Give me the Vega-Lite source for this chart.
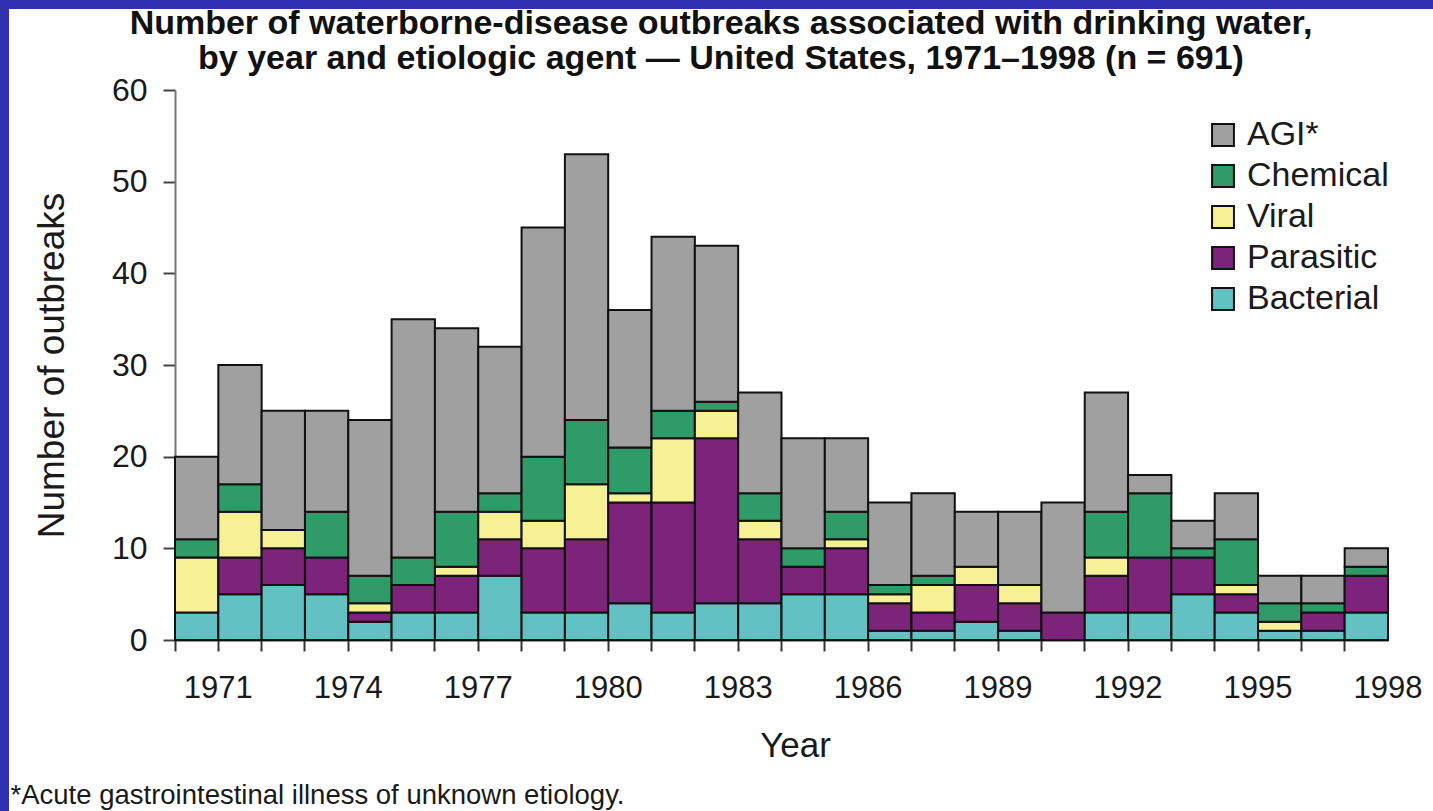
{
  "$schema": "https://vega.github.io/schema/vega-lite/v6.json",
  "width": 1424,
  "height": 802,
  "autosize": {"type": "none"},
  "padding": {"left": 9, "top": 9, "right": 0, "bottom": 0},
  "background": "#3131b2",
  "config": {
    "view": {"fill": "white", "stroke": null},
    "axis": {"grid": false}
  },
  "title": {
    "text": ["Number of waterborne-disease outbreaks associated with drinking water,", "by year and etiologic agent — United States, 1971–1998 (n = 691)"],
    "font": "Liberation Sans",
    "fontSize": 34,
    "fontWeight": "bold",
    "lineHeight": 35,
    "baseline": "top",
    "anchor": "middle",
    "frame": "group",
    "offset": -67,
    "color": "#111111"
  },
  "data": {
    "values": [
      {"year": 1971, "agent": "Bacterial", "n": 3}, {"year": 1971, "agent": "Viral", "n": 6}, {"year": 1971, "agent": "Chemical", "n": 2}, {"year": 1971, "agent": "AGI*", "n": 9},
      {"year": 1972, "agent": "Bacterial", "n": 5}, {"year": 1972, "agent": "Parasitic", "n": 4}, {"year": 1972, "agent": "Viral", "n": 5}, {"year": 1972, "agent": "Chemical", "n": 3}, {"year": 1972, "agent": "AGI*", "n": 13},
      {"year": 1973, "agent": "Bacterial", "n": 6}, {"year": 1973, "agent": "Parasitic", "n": 4}, {"year": 1973, "agent": "Viral", "n": 2}, {"year": 1973, "agent": "AGI*", "n": 13},
      {"year": 1974, "agent": "Bacterial", "n": 5}, {"year": 1974, "agent": "Parasitic", "n": 4}, {"year": 1974, "agent": "Chemical", "n": 5}, {"year": 1974, "agent": "AGI*", "n": 11},
      {"year": 1975, "agent": "Bacterial", "n": 2}, {"year": 1975, "agent": "Parasitic", "n": 1}, {"year": 1975, "agent": "Viral", "n": 1}, {"year": 1975, "agent": "Chemical", "n": 3}, {"year": 1975, "agent": "AGI*", "n": 17},
      {"year": 1976, "agent": "Bacterial", "n": 3}, {"year": 1976, "agent": "Parasitic", "n": 3}, {"year": 1976, "agent": "Chemical", "n": 3}, {"year": 1976, "agent": "AGI*", "n": 26},
      {"year": 1977, "agent": "Bacterial", "n": 3}, {"year": 1977, "agent": "Parasitic", "n": 4}, {"year": 1977, "agent": "Viral", "n": 1}, {"year": 1977, "agent": "Chemical", "n": 6}, {"year": 1977, "agent": "AGI*", "n": 20},
      {"year": 1978, "agent": "Bacterial", "n": 7}, {"year": 1978, "agent": "Parasitic", "n": 4}, {"year": 1978, "agent": "Viral", "n": 3}, {"year": 1978, "agent": "Chemical", "n": 2}, {"year": 1978, "agent": "AGI*", "n": 16},
      {"year": 1979, "agent": "Bacterial", "n": 3}, {"year": 1979, "agent": "Parasitic", "n": 7}, {"year": 1979, "agent": "Viral", "n": 3}, {"year": 1979, "agent": "Chemical", "n": 7}, {"year": 1979, "agent": "AGI*", "n": 25},
      {"year": 1980, "agent": "Bacterial", "n": 3}, {"year": 1980, "agent": "Parasitic", "n": 8}, {"year": 1980, "agent": "Viral", "n": 6}, {"year": 1980, "agent": "Chemical", "n": 7}, {"year": 1980, "agent": "AGI*", "n": 29},
      {"year": 1981, "agent": "Bacterial", "n": 4}, {"year": 1981, "agent": "Parasitic", "n": 11}, {"year": 1981, "agent": "Viral", "n": 1}, {"year": 1981, "agent": "Chemical", "n": 5}, {"year": 1981, "agent": "AGI*", "n": 15},
      {"year": 1982, "agent": "Bacterial", "n": 3}, {"year": 1982, "agent": "Parasitic", "n": 12}, {"year": 1982, "agent": "Viral", "n": 7}, {"year": 1982, "agent": "Chemical", "n": 3}, {"year": 1982, "agent": "AGI*", "n": 19},
      {"year": 1983, "agent": "Bacterial", "n": 4}, {"year": 1983, "agent": "Parasitic", "n": 18}, {"year": 1983, "agent": "Viral", "n": 3}, {"year": 1983, "agent": "Chemical", "n": 1}, {"year": 1983, "agent": "AGI*", "n": 17},
      {"year": 1984, "agent": "Bacterial", "n": 4}, {"year": 1984, "agent": "Parasitic", "n": 7}, {"year": 1984, "agent": "Viral", "n": 2}, {"year": 1984, "agent": "Chemical", "n": 3}, {"year": 1984, "agent": "AGI*", "n": 11},
      {"year": 1985, "agent": "Bacterial", "n": 5}, {"year": 1985, "agent": "Parasitic", "n": 3}, {"year": 1985, "agent": "Chemical", "n": 2}, {"year": 1985, "agent": "AGI*", "n": 12},
      {"year": 1986, "agent": "Bacterial", "n": 5}, {"year": 1986, "agent": "Parasitic", "n": 5}, {"year": 1986, "agent": "Viral", "n": 1}, {"year": 1986, "agent": "Chemical", "n": 3}, {"year": 1986, "agent": "AGI*", "n": 8},
      {"year": 1987, "agent": "Bacterial", "n": 1}, {"year": 1987, "agent": "Parasitic", "n": 3}, {"year": 1987, "agent": "Viral", "n": 1}, {"year": 1987, "agent": "Chemical", "n": 1}, {"year": 1987, "agent": "AGI*", "n": 9},
      {"year": 1988, "agent": "Bacterial", "n": 1}, {"year": 1988, "agent": "Parasitic", "n": 2}, {"year": 1988, "agent": "Viral", "n": 3}, {"year": 1988, "agent": "Chemical", "n": 1}, {"year": 1988, "agent": "AGI*", "n": 9},
      {"year": 1989, "agent": "Bacterial", "n": 2}, {"year": 1989, "agent": "Parasitic", "n": 4}, {"year": 1989, "agent": "Viral", "n": 2}, {"year": 1989, "agent": "AGI*", "n": 6},
      {"year": 1990, "agent": "Bacterial", "n": 1}, {"year": 1990, "agent": "Parasitic", "n": 3}, {"year": 1990, "agent": "Viral", "n": 2}, {"year": 1990, "agent": "AGI*", "n": 8},
      {"year": 1991, "agent": "Parasitic", "n": 3}, {"year": 1991, "agent": "AGI*", "n": 12},
      {"year": 1992, "agent": "Bacterial", "n": 3}, {"year": 1992, "agent": "Parasitic", "n": 4}, {"year": 1992, "agent": "Viral", "n": 2}, {"year": 1992, "agent": "Chemical", "n": 5}, {"year": 1992, "agent": "AGI*", "n": 13},
      {"year": 1993, "agent": "Bacterial", "n": 3}, {"year": 1993, "agent": "Parasitic", "n": 6}, {"year": 1993, "agent": "Chemical", "n": 7}, {"year": 1993, "agent": "AGI*", "n": 2},
      {"year": 1994, "agent": "Bacterial", "n": 5}, {"year": 1994, "agent": "Parasitic", "n": 4}, {"year": 1994, "agent": "Chemical", "n": 1}, {"year": 1994, "agent": "AGI*", "n": 3},
      {"year": 1995, "agent": "Bacterial", "n": 3}, {"year": 1995, "agent": "Parasitic", "n": 2}, {"year": 1995, "agent": "Viral", "n": 1}, {"year": 1995, "agent": "Chemical", "n": 5}, {"year": 1995, "agent": "AGI*", "n": 5},
      {"year": 1996, "agent": "Bacterial", "n": 1}, {"year": 1996, "agent": "Viral", "n": 1}, {"year": 1996, "agent": "Chemical", "n": 2}, {"year": 1996, "agent": "AGI*", "n": 3},
      {"year": 1997, "agent": "Bacterial", "n": 1}, {"year": 1997, "agent": "Parasitic", "n": 2}, {"year": 1997, "agent": "Chemical", "n": 1}, {"year": 1997, "agent": "AGI*", "n": 3},
      {"year": 1998, "agent": "Bacterial", "n": 3}, {"year": 1998, "agent": "Parasitic", "n": 4}, {"year": 1998, "agent": "Chemical", "n": 1}, {"year": 1998, "agent": "AGI*", "n": 2}
    ]
  },
  "transform": [
    {"calculate": "indexof(['Bacterial','Parasitic','Viral','Chemical','AGI*'], datum.agent)", "as": "stackOrder"}
  ],
  "resolve": {"axis": {"x": "independent"}},
  "layer": [
    {
      "mark": {"type": "bar", "stroke": "#111111", "strokeWidth": 2},
      "encoding": {
        "x": {
          "field": "year", "type": "ordinal",
          "scale": {"range": [166, 1379], "paddingInner": 0, "paddingOuter": 0},
          "axis": {
            "orient": "bottom", "offset": -171, "bandPosition": 0, "labelOffset": 21.65,
            "labelAngle": 0,
            "labelExpr": "(datum.value - 1971) % 3 == 0 ? datum.value : ''",
            "labelFont": "Liberation Sans", "labelFontSize": 31, "labelColor": "#1a1a1a", "labelPadding": 22,
            "tickSize": 11, "tickWidth": 2, "tickColor": "#333333",
            "domainColor": "#333333", "domainWidth": 2,
            "title": "Year", "titleFont": "Liberation Sans", "titleFontSize": 35, "titleFontWeight": "normal",
            "titleColor": "#1a1a1a", "titlePadding": 25, "titleX": 786
          }
        },
        "y": {
          "field": "n", "type": "quantitative", "stack": "zero",
          "scale": {"domain": [0, 60], "range": [631, 81], "nice": false},
          "axis": {
            "offset": -166, "values": [0, 10, 20, 30, 40, 50, 60],
            "labelFont": "Liberation Sans", "labelFontSize": 32, "labelColor": "#1a1a1a", "labelPadding": 16,
            "tickSize": 12, "tickWidth": 2, "tickColor": "#444444",
            "domainColor": "#777777", "domainWidth": 2,
            "title": "Number of outbreaks", "titleFont": "Liberation Sans", "titleFontSize": 37, "titleFontWeight": "normal",
            "titleColor": "#1a1a1a", "titlePadding": 40
          }
        },
        "color": {
          "field": "agent", "type": "nominal",
          "scale": {
            "domain": ["AGI*", "Chemical", "Viral", "Parasitic", "Bacterial"],
            "range": ["#a0a0a0", "#2f9b68", "#f6f195", "#7b2479", "#62c1c3"]
          },
          "legend": {
            "orient": "none", "legendX": 1197, "legendY": 109, "title": null, "padding": 0,
            "symbolType": "square", "symbolSize": 480, "symbolStrokeColor": "#111111", "symbolStrokeWidth": 2,
            "symbolOpacity": 1,
            "labelFont": "Liberation Sans", "labelFontSize": 34, "labelColor": "#1a1a1a", "labelOffset": 7,
            "rowPadding": 7
          }
        },
        "order": {"field": "stackOrder", "type": "quantitative"}
      }
    },
    {
      "mark": {"type": "bar", "opacity": 0},
      "encoding": {
        "x": {
          "field": "year", "type": "ordinal",
          "axis": {
            "orient": "bottom", "labels": false, "ticks": false, "domain": false,
            "title": "*Acute gastrointestinal illness of unknown etiology.",
            "titleFont": "Liberation Sans", "titleFontSize": 27.5, "titleFontWeight": "normal", "titleColor": "#1a1a1a",
            "titleAnchor": "start", "titleAlign": "left", "titleBaseline": "alphabetic", "titleX": 1, "titleY": -8
          }
        },
        "y": {"field": "n", "type": "quantitative", "stack": "zero"}
      }
    }
  ]
}
